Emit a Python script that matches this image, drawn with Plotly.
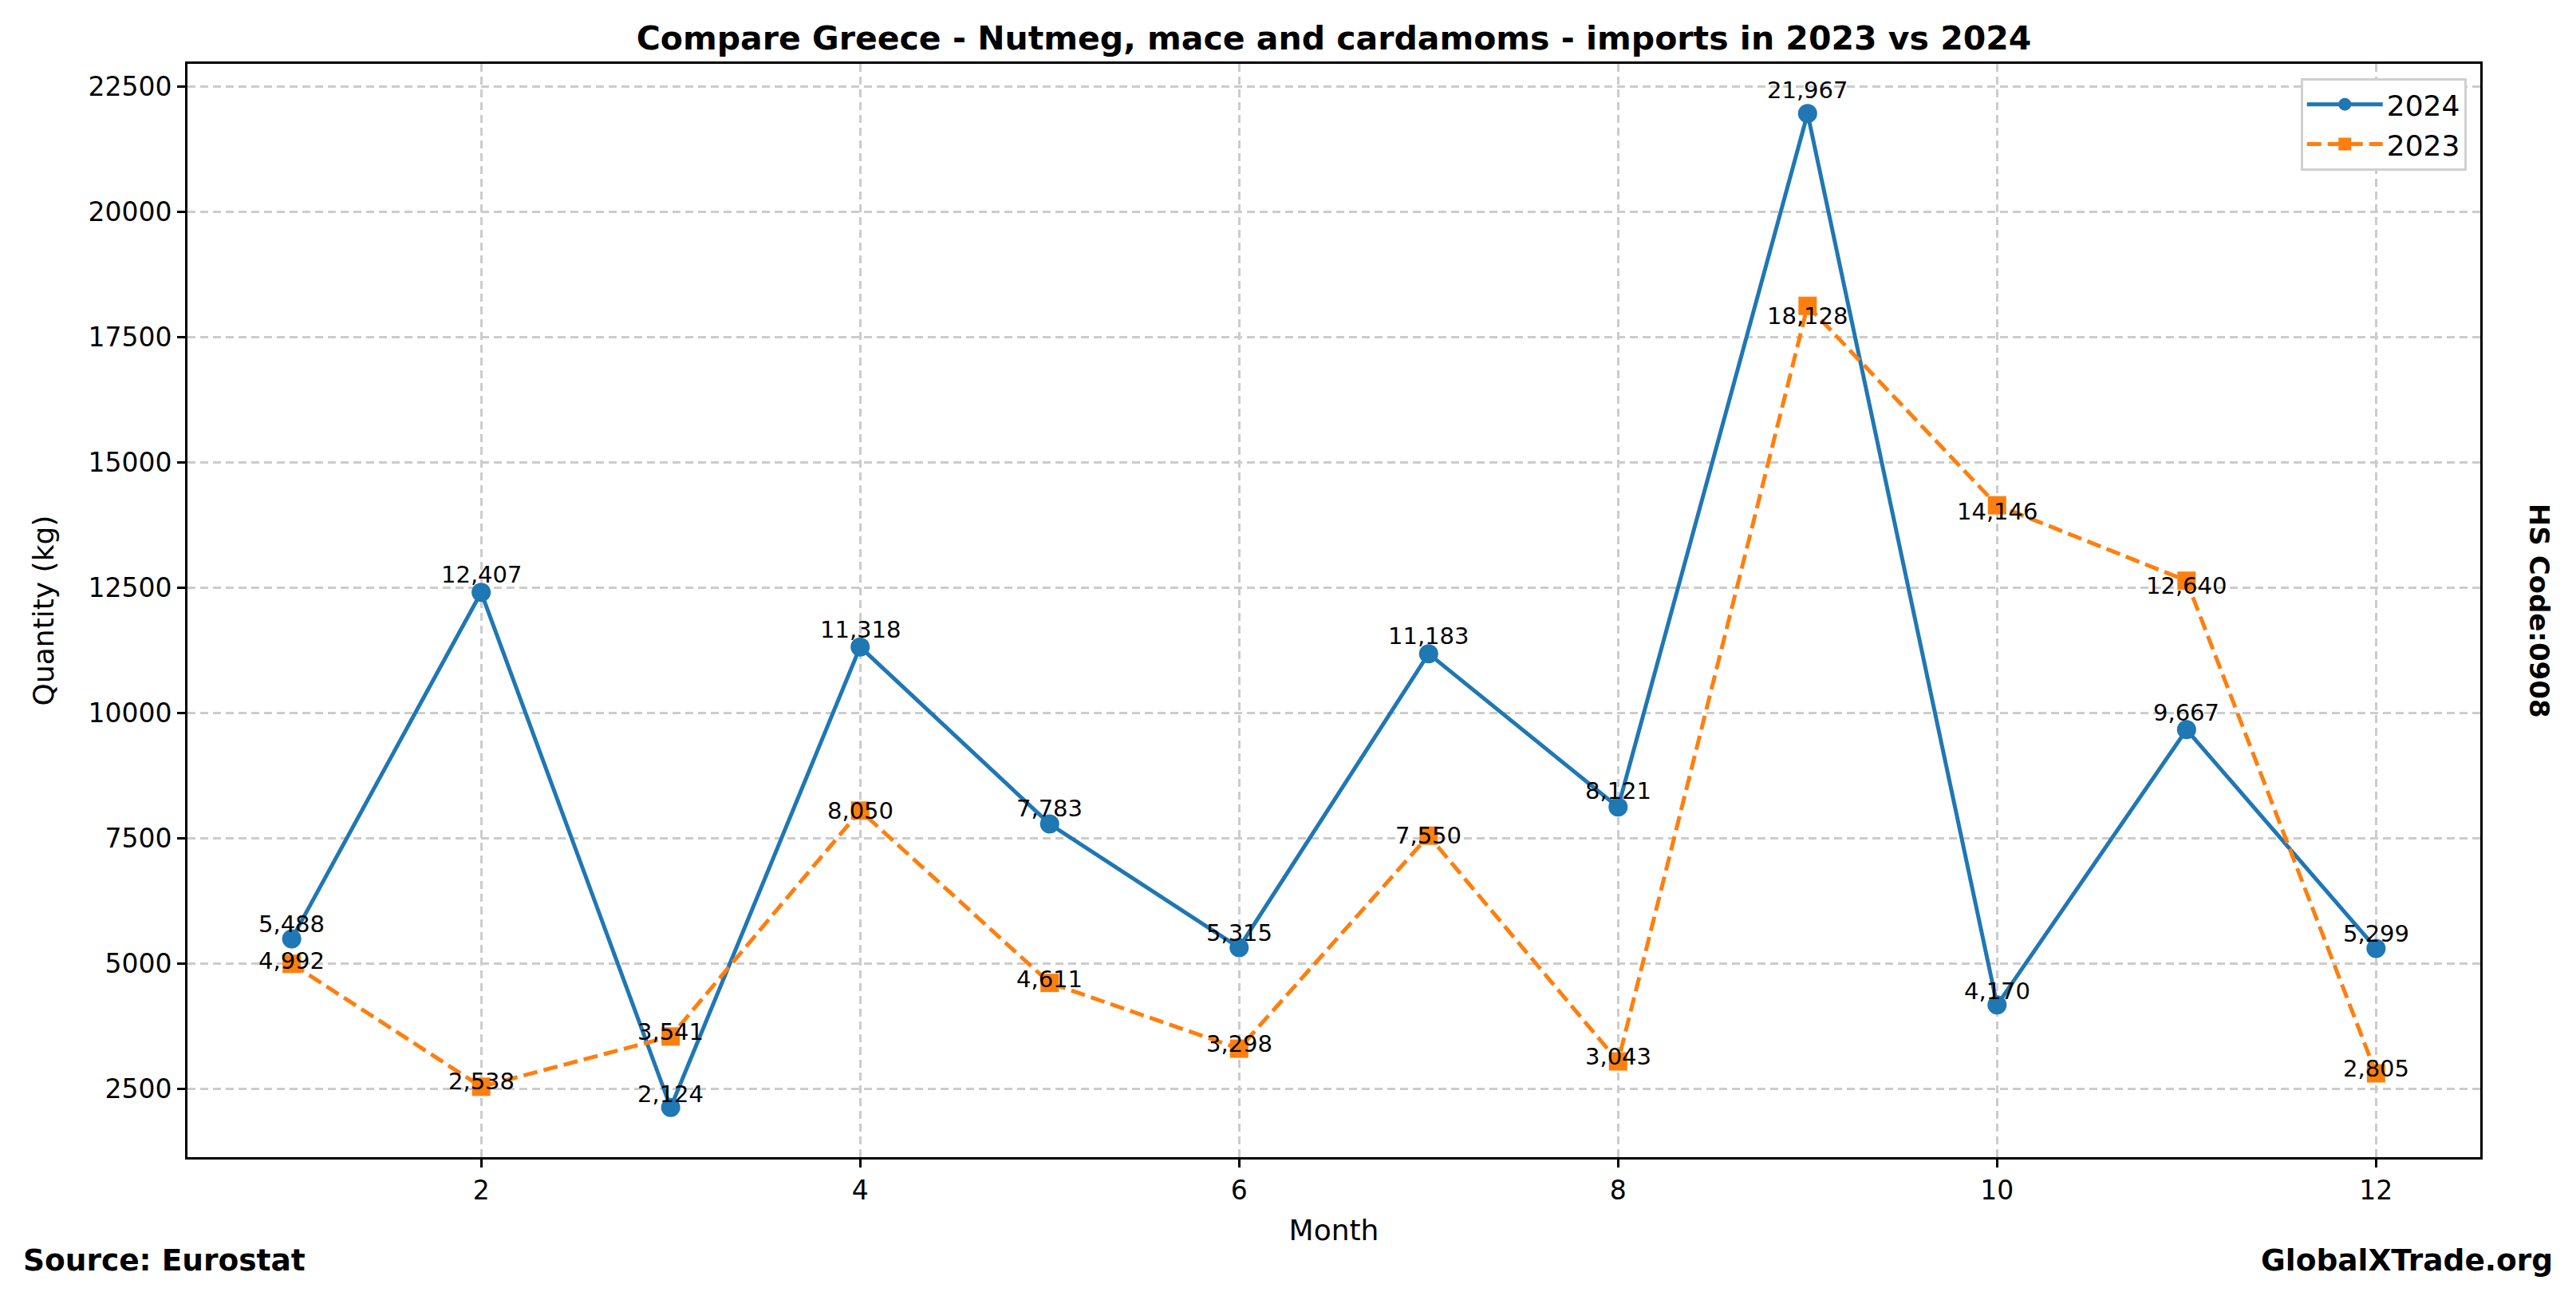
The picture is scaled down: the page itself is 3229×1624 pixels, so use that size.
import plotly.graph_objects as go

months = list(range(1, 13))
qty_2024 = [5488, 12407, 2124, 11318, 7783, 5315, 11183, 8121, 21967, 4170, 9667, 5299]
qty_2023 = [4992, 2538, 3541, 8050, 4611, 3298, 7550, 3043, 18128, 14146, 12640, 2805]
x_ticks = [2, 4, 6, 8, 10, 12]
y_ticks = [2500, 5000, 7500, 10000, 12500, 15000, 17500, 20000, 22500]

FONT = "DejaVu Sans"
BLUE = "#1f77b4"
ORANGE = "#ff7f0e"

fig = go.Figure()
fig.add_trace(go.Scatter(
    x=months, y=qty_2024, name="2024", mode="lines+markers",
    line=dict(color=BLUE, width=5),
    marker=dict(symbol="circle", size=24, color=BLUE),
))
fig.add_trace(go.Scatter(
    x=months, y=qty_2023, name="2023", mode="lines+markers",
    line=dict(color=ORANGE, width=5, dash="18px,8px"),
    marker=dict(symbol="square", size=23, color=ORANGE),
))

annotations = []
for m, v in zip(months, qty_2024):
    annotations.append(dict(x=m, y=v * 1.01, xref="x", yref="y", text=f"{v:,}",
                            showarrow=False, yanchor="bottom", xanchor="center", yshift=-3,
                            font=dict(family=FONT, size=29, color="black"), borderpad=0))
for m, v in zip(months, qty_2023):
    annotations.append(dict(x=m, y=v * 0.98, xref="x", yref="y", text=f"{v:,}",
                            showarrow=False, yanchor="bottom", xanchor="center", yshift=-8,
                            font=dict(family=FONT, size=29, color="black"), borderpad=0))

annotations += [
    dict(text="<b>Source: Eurostat</b>", xref="paper", yref="paper", x=-0.0724, y=-0.094,
         xanchor="left", yanchor="middle", showarrow=False, font=dict(family=FONT, size=37.5, color="black")),
    dict(text="<b>GlobalXTrade.org</b>", xref="paper", yref="paper", x=1.0324, y=-0.094,
         xanchor="right", yanchor="middle", showarrow=False, font=dict(family=FONT, size=37.5, color="black")),
    dict(text="<b>HS Code:0908</b>", xref="paper", yref="paper", x=1.0258, y=0.5,
         xanchor="center", yanchor="middle", textangle=90, showarrow=False,
         font=dict(family=FONT, size=34, color="black")),
]

fig.update_layout(
    width=3229, height=1624,
    margin=dict(l=227, r=128, t=72, b=182),
    paper_bgcolor="white", plot_bgcolor="white",
    font=dict(family=FONT, size=33, color="black"),
    title=dict(text="<b>Compare Greece - Nutmeg, mace and cardamoms - imports in 2023 vs 2024</b>",
               x=0.5, xref="paper", xanchor="center", y=1 - 40 / 1624, yanchor="middle",
               font=dict(family=FONT, size=41, color="black")),
    showlegend=True,
    legend=dict(x=0.994, y=0.987, xanchor="right", yanchor="top",
                bgcolor="white", bordercolor="#d0d0d0", borderwidth=3,
                font=dict(family=FONT, size=36, color="black"),
                itemwidth=95),
    annotations=annotations,
)

fig.update_xaxes(
    range=[0.45, 12.55], tickmode="array", tickvals=x_ticks, ticktext=[str(t) for t in x_ticks],
    showline=True, linecolor="black", linewidth=3, mirror=True,
    ticks="outside", ticklen=10, tickwidth=3, tickcolor="black",
    showgrid=True, gridcolor="#cccccc", gridwidth=3, griddash="10px,6px",
    zeroline=False,
    title=dict(text="Month", font=dict(family=FONT, size=36), standoff=20),
    tickfont=dict(family=FONT, size=33),
)
fig.update_yaxes(
    range=[1132, 22959], tickmode="array", tickvals=y_ticks, ticktext=[str(t) for t in y_ticks],
    showline=True, linecolor="black", linewidth=3, mirror=True,
    ticks="outside", ticklen=10, tickwidth=3, tickcolor="black",
    showgrid=True, gridcolor="#cccccc", gridwidth=3, griddash="10px,6px",
    zeroline=False,
    title=dict(text="Quantity (kg)", font=dict(family=FONT, size=36), standoff=32),
    tickfont=dict(family=FONT, size=33),
)

fig.write_html("out.html")
